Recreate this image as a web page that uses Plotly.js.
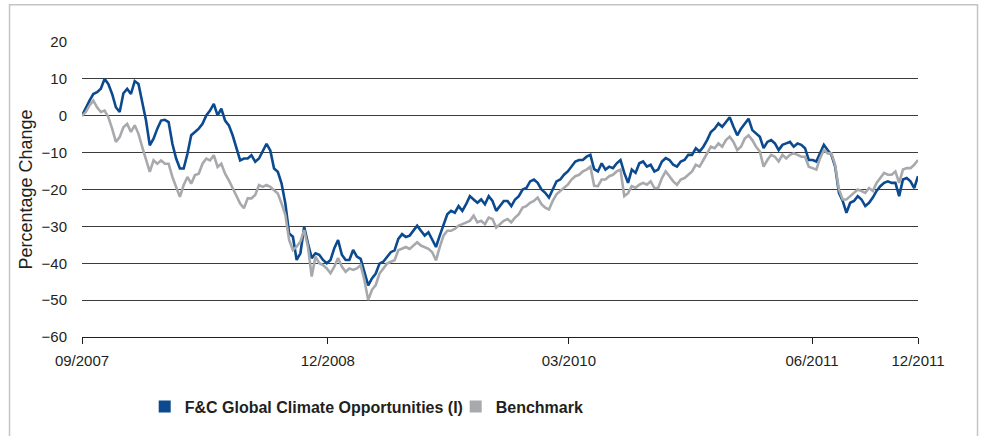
<!DOCTYPE html>
<html>
<head>
<meta charset="utf-8">
<script src="https://cdn.plot.ly/plotly-3.0.1.min.js"></script>
<style>html,body{margin:0;padding:0;background:#fff;}#chart{width:983px;height:436px;}</style>
</head>
<body>
<div id="chart"></div>
<script>
// Weekly observations, percentage change since 09/2007
const startDate = '2007-09-28';
const fundName = 'F&C Global Climate Opportunities (I)';
const benchName = 'Benchmark';

const fund = [
  0, 2.3, 4.1, 5.9, 6.4, 7.3, 10.0, 8.6, 5.9, 2.3,
  1.0, 6.1, 7.3, 5.9, 9.4, 8.6, 4.1, -1.3, -8.0, -6.2,
  -3.5, -1.3, -1.1, -1.7, -7.6, -11.6, -14.3, -14.3, -10.3, -5.3,
  -4.4, -3.5, -2.2, 0.1, 1.4, 3.2, 0.1, 1.9, -1.3, -2.6,
  -5.3, -8.5, -12.1, -11.6, -11.6, -10.7, -12.5, -11.6, -9.4, -7.6,
  -9.4, -14.3, -15.2, -18.4, -23.8, -31.9, -32.8, -39.1, -37.3, -30.1,
  -34.6, -38.6, -37.3, -37.7, -39.1, -40.0, -39.1, -35.9, -33.7, -37.7,
  -39.1, -39.1, -36.4, -38.2, -38.8, -42.3, -46.0, -44.1, -42.8, -40.1,
  -39.6, -38.3, -37.0, -36.5, -33.4, -32.1, -32.9, -32.5, -31.2, -29.8,
  -31.2, -32.5, -31.6, -33.4, -35.6, -32.5, -29.4, -26.7, -25.8, -26.3,
  -24.5, -25.8, -24.0, -21.8, -22.7, -23.6, -22.7, -24.0, -21.8, -23.1,
  -25.8, -24.5, -23.1, -23.1, -24.5, -22.7, -21.8, -20.0, -19.6, -17.8,
  -17.3, -18.2, -20.0, -20.9, -22.2, -20.0, -17.8, -17.3, -16.0, -15.1,
  -13.8, -12.4, -12.0, -12.0, -11.1, -10.6, -14.5, -15.1, -12.9, -14.6,
  -13.8, -14.2, -12.9, -12.0, -15.5, -18.2, -14.6, -15.5, -12.9, -12.4,
  -13.8, -13.3, -15.1, -14.6, -12.4, -11.5, -12.0, -13.3, -13.8, -12.4,
  -12.0, -10.6, -10.6, -8.8, -9.7, -8.4, -6.6, -4.4, -3.5, -2.1,
  -3.0, -1.7, -0.4, -3.0, -5.3, -3.5, -2.1, -0.8, -3.9, -4.8,
  -5.7, -8.8, -7.1, -6.6, -7.5, -9.3, -7.9, -7.5, -7.1, -8.4,
  -7.5, -7.9, -8.8, -12.0, -12.0, -12.4, -10.2, -7.9, -9.3, -10.6,
  -13.8, -20.9, -23.1, -26.3, -23.6, -23.1, -21.8, -22.7, -24.5, -23.6,
  -22.2, -20.4, -19.1, -18.2, -17.8, -18.2, -18.2, -21.8, -17.3, -16.9,
  -17.8, -19.6, -16.4
];

const benchmark = [
  0, 1.0, 2.8, 4.1, 2.3, 1.0, 1.4, -0.4, -3.5, -7.1,
  -5.8, -3.1, -2.2, -4.4, -2.6, -4.9, -8.5, -12.1, -15.2, -12.1,
  -13.0, -12.1, -13.0, -13.0, -16.6, -19.3, -22.0, -18.8, -16.6, -18.4,
  -16.1, -15.7, -13.0, -11.6, -12.1, -10.7, -13.9, -13.0, -15.7, -17.5,
  -19.7, -21.5, -23.8, -25.1, -22.4, -22.4, -21.5, -18.8, -19.3, -18.8,
  -19.3, -20.2, -21.1, -23.8, -26.9, -33.7, -36.4, -35.5, -34.1, -31.0,
  -35.5, -43.6, -38.2, -40.0, -40.5, -41.4, -42.7, -40.9, -38.6, -40.9,
  -42.3, -41.4, -41.8, -41.4, -40.5, -44.6, -50.0, -47.2, -45.9, -42.8,
  -41.4, -40.1, -39.6, -39.2, -36.5, -36.1, -35.6, -36.1, -35.2, -34.3,
  -35.2, -35.6, -36.1, -37.0, -39.2, -35.6, -32.5, -31.2, -31.2, -30.7,
  -29.8, -29.4, -28.9, -28.5, -27.1, -28.9, -28.5, -29.4, -27.6, -28.0,
  -30.3, -29.4, -28.5, -28.0, -28.9, -27.6, -26.7, -24.9, -24.5, -23.6,
  -23.1, -22.2, -24.0, -24.9, -25.4, -23.1, -21.3, -20.4, -19.6, -18.7,
  -17.3, -16.4, -16.0, -15.1, -14.6, -13.8, -19.0, -19.1, -17.3, -17.3,
  -16.4, -16.0, -15.1, -14.6, -21.8, -21.0, -19.1, -19.5, -18.7, -18.2,
  -18.7, -17.8, -19.6, -19.6, -16.9, -15.1, -16.4, -17.8, -18.7, -17.3,
  -16.9, -16.0, -15.1, -13.3, -13.8, -12.0, -10.2, -8.4, -8.8, -7.5,
  -8.4, -6.6, -5.7, -7.1, -9.3, -8.4, -6.2, -5.3, -6.6, -8.4,
  -9.7, -13.8, -12.0, -10.6, -11.1, -12.4, -10.6, -11.6, -10.6, -10.2,
  -10.6, -11.1, -11.1, -13.8, -14.2, -14.6, -11.5, -9.3, -10.2, -10.2,
  -13.3, -20.0, -22.7, -22.7, -21.8, -20.9, -20.0, -20.4, -20.9, -19.6,
  -20.4, -18.2, -16.9, -15.5, -16.0, -16.0, -15.1, -18.2, -14.6, -14.2,
  -14.2, -13.3, -12.0
];

const tickDates = ['2007-09-28', '2008-12-28', '2010-03-21', '2011-06-16', '2011-12-30'];
const tickLabels = ['09/2007', '12/2008', '03/2010', '06/2011', '12/2011'];
const yTicks = [20, 10, 0, -10, -20, -30, -40, -50, -60];

// weekly date axis
const dates = fund.map((_, i) => {
  const d = new Date(Date.parse(startDate + 'T00:00:00Z') + i * 7 * 86400000);
  return d.toISOString().slice(0, 10);
});

const BLUE = '#0b4a8e';
const GREY = '#a7a9ac';
const FONT = 'Liberation Sans, Arial, Helvetica, sans-serif';

const traces = [
  {x: dates, y: fund, type: 'scatter', mode: 'lines', name: fundName,
   line: {color: BLUE, width: 2.6}, showlegend: false, hoverinfo: 'x+y'},
  {x: dates, y: benchmark, type: 'scatter', mode: 'lines', name: benchName,
   line: {color: GREY, width: 2.6}, showlegend: false, hoverinfo: 'x+y'},
  {x: [null], y: [null], type: 'scatter', mode: 'markers', name: '<b>' + fundName + '</b>',
   marker: {symbol: 'square', size: 12, color: BLUE}, showlegend: true},
  {x: [null], y: [null], type: 'scatter', mode: 'markers', name: '<b>' + benchName + '</b>',
   marker: {symbol: 'square', size: 12, color: GREY}, showlegend: true}
];

const layout = {
  width: 983, height: 436,
  margin: {l: 82, r: 65, t: 42, b: 97},
  paper_bgcolor: '#ffffff', plot_bgcolor: '#ffffff',
  font: {family: FONT, color: '#231f20', size: 15},
  showlegend: true,
  xaxis: {
    type: 'date',
    range: [tickDates[0], tickDates[tickDates.length - 1]],
    tickmode: 'array', tickvals: tickDates, ticktext: tickLabels,
    ticks: 'outside', ticklen: 6, tickwidth: 1, tickcolor: '#231f20',
    showline: true, linecolor: '#231f20', linewidth: 1,
    showgrid: false, zeroline: false,
    tickfont: {family: FONT, size: 15, color: '#231f20'},
    ticklabelstandoff: 4,
    fixedrange: true
  },
  yaxis: {
    range: [-60, 20],
    tickmode: 'array', tickvals: yTicks,
    showgrid: true, gridcolor: '#3c3c3c', gridwidth: 1,
    zeroline: false, showline: false, ticks: '',
    tickfont: {family: FONT, size: 15, color: '#231f20'},
    ticklabelstandoff: 14,
    title: {text: 'Percentage Change', font: {family: FONT, size: 18, color: '#231f20'}, standoff: 4},
    fixedrange: true
  },
  legend: {
    orientation: 'h', x: 0.075, xanchor: 'left', y: -0.236, yanchor: 'middle',
    entrywidth: 266, entrywidthmode: 'pixels',
    font: {family: FONT, size: 16, color: '#231f20'},
    bgcolor: 'rgba(0,0,0,0)', borderwidth: 0, itemclick: false, itemdoubleclick: false
  },
  shapes: [{
    type: 'rect', xref: 'paper', yref: 'paper',
    x0: -0.0867, x1: 1.0712, y0: -0.40, y1: 1.1263,
    line: {color: '#c4c4c4', width: 1.5}, fillcolor: 'rgba(0,0,0,0)', layer: 'below'
  }]
};

Plotly.newPlot('chart', traces, layout, {displayModeBar: false, staticPlot: true});
</script>
</body>
</html>
